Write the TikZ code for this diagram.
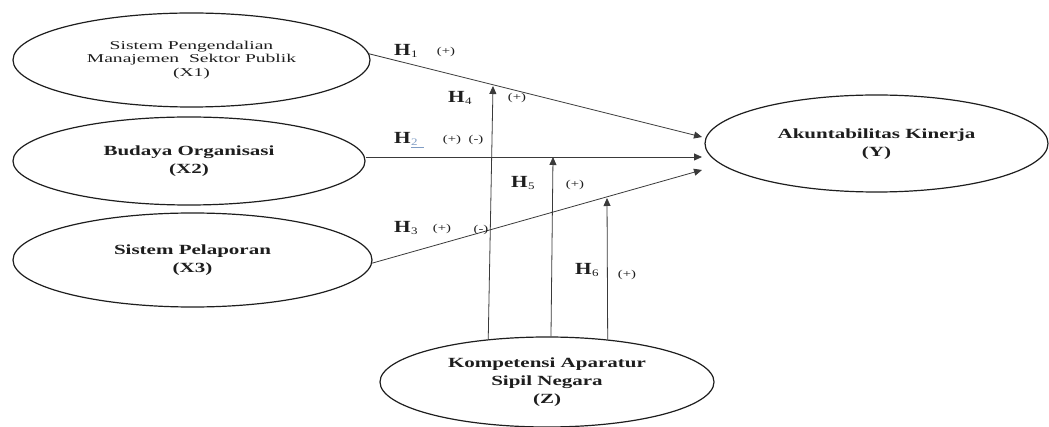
\documentclass[tikz,border=0pt]{standalone}
\usepackage{fontspec}
\setmainfont{Liberation Serif}
\usetikzlibrary{arrows.meta,shapes.geometric}
\definecolor{ink}{HTML}{1e1e1e}
\definecolor{linec}{HTML}{3a3a3a}
\definecolor{ulblue}{HTML}{7f9cc4}
\newcommand{\boldlab}[1]{\scalebox{1.5}[1]{\fontsize{14}{18}\selectfont\bfseries\begin{tabular}{@{}c@{}}#1\end{tabular}}}
\newcommand{\thinlab}[1]{\scalebox{1.63}[1]{\fontsize{12}{13.5}\selectfont\begin{tabular}{@{}c@{}}#1\end{tabular}}}
\newcommand{\bigH}{\scalebox{1.25}[1]{\fontsize{17}{17}\selectfont\bfseries H}}
\newcommand{\hyp}[1]{\bigH\kern0.5pt\raisebox{-1.5pt}{\scalebox{1.3}[1]{\fontsize{10}{10}\selectfont #1}}}
\newcommand{\sgn}[1]{\scalebox{1.4}[1]{\fontsize{10.5}{10.5}\selectfont #1}}
\begin{document}
\begin{tikzpicture}[x=1pt, y=-1pt,
  ell/.style={ellipse, draw=ink, line width=1.2pt, inner sep=0pt, text=ink},
  arr/.style={draw=linec, line width=0.8pt, -{Triangle[length=8pt,width=7pt]}},
  hl/.style={anchor=base west, inner sep=0pt, text=ink},
  sg/.style={inner sep=0pt, text=ink}]
\useasboundingbox (0,0) rectangle (1049,427);
\fill[white] (0,0) rectangle (1049,427);

% constructs
\node[ell, minimum width=357pt, minimum height=94pt] (X1) at (191.5,60)
  {\thinlab{Sistem Pengendalian\\Manajemen\ \ Sektor Publik\\(X1)}};
\node[ell, minimum width=352pt, minimum height=88pt] (X2) at (189,161)
  {\boldlab{Budaya Organisasi\\(X2)}};
\node[ell, minimum width=359pt, minimum height=94pt] (X3) at (192.5,260)
  {\boldlab{Sistem Pelaporan\\(X3)}};
\node[ell, minimum width=343pt, minimum height=97pt] (Y) at (876.5,143.5)
  {\boldlab{Akuntabilitas Kinerja\\(Y)}};
\node[ell, minimum width=334pt, minimum height=90pt] (Z) at (547,382)
  {\boldlab{Kompetensi Aparatur\\Sipil Negara\\(Z)}};

% arrow tips
\coordinate (t1) at (702,137);
\coordinate (t2) at (702,157);
\coordinate (t3) at (702,170);
\coordinate (t4) at (493,86);
\coordinate (t5) at (553,157);
\coordinate (t6) at (607,198);

% connectors
\draw[arr] (X1.2) -- (t1);
\draw[arr] (t2 -| X2.east) -- (t2);
\draw[arr] (X3.-1.5) -- (t3);
\draw[arr] (Z.144) -- (t4);
\draw[arr] (Z.85) -- (t5);
\draw[arr] (Z.35.5) -- (t6);

% hypothesis labels
\node[hl] (h1) at (394,56) {\hyp{1}};
\node[sg] (s1) at (446,52) {\sgn{(+)}};
\node[hl] (h4) at (448,103) {\hyp{4}};
\node[sg] (s4) at (517,98) {\sgn{(+)}};
\node[hl] (h2) at (394,144) {\bigH\kern0.5pt\raisebox{-1.5pt}{\scalebox{1.3}[1]{\fontsize{10}{10}\selectfont\color{ulblue}\underline{2\ \ }}}};
\node[sg] (s2a) at (452,140) {\sgn{(+)}};
\node[sg] (s2b) at (476,140) {\sgn{(-)}};
\node[hl] (h5) at (511,188) {\hyp{5}};
\node[sg] (s5) at (575,185) {\sgn{(+)}};
\node[hl] (h3) at (394,233) {\hyp{3}};
\node[sg] (s3a) at (442,229) {\sgn{(+)}};
\node[sg] (s3b) at (481,230) {\sgn{(-)}};
\node[hl] (h6) at (575,275) {\hyp{6}};
\node[sg] (s6) at (627,275) {\sgn{(+)}};
\end{tikzpicture}
\end{document}
